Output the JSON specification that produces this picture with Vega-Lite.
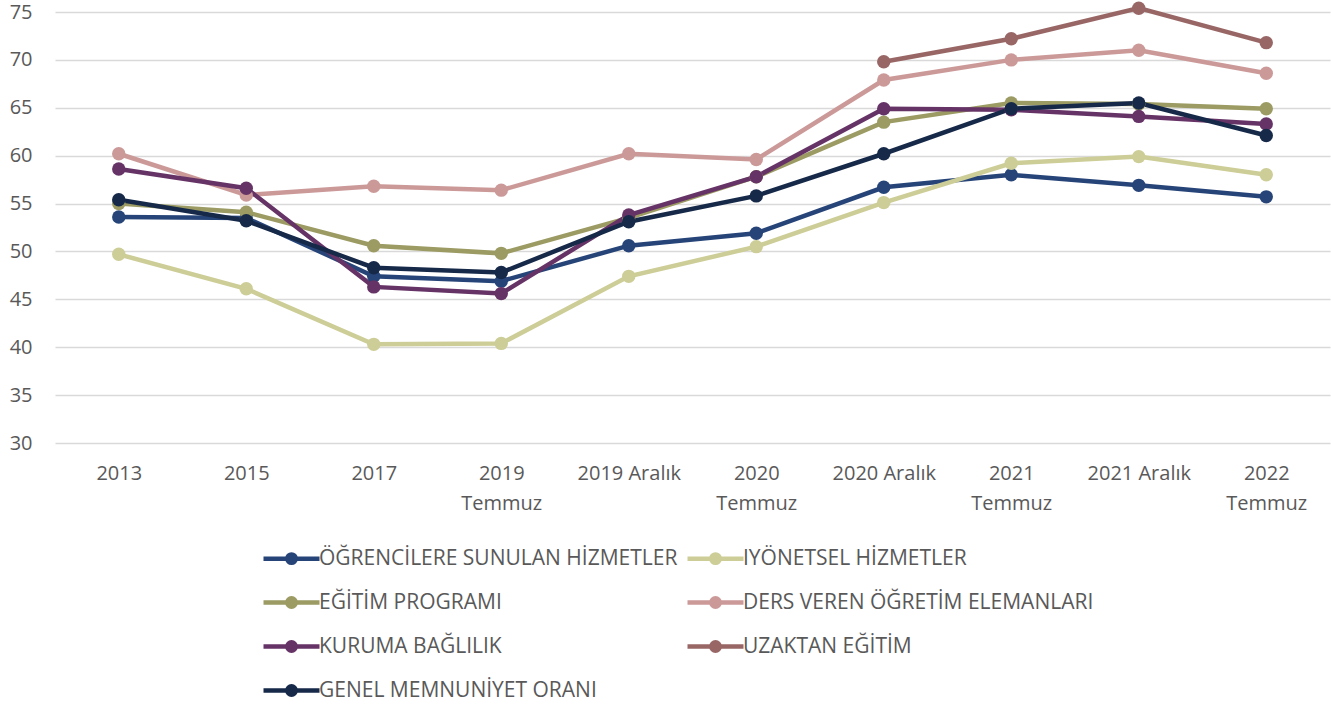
{
  "$schema": "https://vega.github.io/schema/vega-lite/v6.json",
  "width": 1275,
  "height": 431,
  "autosize": {"type": "none"},
  "padding": {"left": 55, "top": 12, "right": 1, "bottom": 265},
  "background": "#ffffff",
  "config": {
    "view": {"stroke": null},
    "font": "Open Sans"
  },
  "data": {
    "values": [
      {"s": "ÖĞRENCİLERE SUNULAN HİZMETLER", "d": "2013", "v": 53.6},
      {"s": "ÖĞRENCİLERE SUNULAN HİZMETLER", "d": "2015", "v": 53.5},
      {"s": "ÖĞRENCİLERE SUNULAN HİZMETLER", "d": "2017", "v": 47.4},
      {"s": "ÖĞRENCİLERE SUNULAN HİZMETLER", "d": "2019 Temmuz", "v": 46.9},
      {"s": "ÖĞRENCİLERE SUNULAN HİZMETLER", "d": "2019 Aralık", "v": 50.6},
      {"s": "ÖĞRENCİLERE SUNULAN HİZMETLER", "d": "2020 Temmuz", "v": 51.9},
      {"s": "ÖĞRENCİLERE SUNULAN HİZMETLER", "d": "2020 Aralık", "v": 56.7},
      {"s": "ÖĞRENCİLERE SUNULAN HİZMETLER", "d": "2021 Temmuz", "v": 58.0},
      {"s": "ÖĞRENCİLERE SUNULAN HİZMETLER", "d": "2021 Aralık", "v": 56.9},
      {"s": "ÖĞRENCİLERE SUNULAN HİZMETLER", "d": "2022 Temmuz", "v": 55.7},
      {"s": "IYÖNETSEL HİZMETLER", "d": "2013", "v": 49.7},
      {"s": "IYÖNETSEL HİZMETLER", "d": "2015", "v": 46.1},
      {"s": "IYÖNETSEL HİZMETLER", "d": "2017", "v": 40.3},
      {"s": "IYÖNETSEL HİZMETLER", "d": "2019 Temmuz", "v": 40.4},
      {"s": "IYÖNETSEL HİZMETLER", "d": "2019 Aralık", "v": 47.4},
      {"s": "IYÖNETSEL HİZMETLER", "d": "2020 Temmuz", "v": 50.5},
      {"s": "IYÖNETSEL HİZMETLER", "d": "2020 Aralık", "v": 55.1},
      {"s": "IYÖNETSEL HİZMETLER", "d": "2021 Temmuz", "v": 59.2},
      {"s": "IYÖNETSEL HİZMETLER", "d": "2021 Aralık", "v": 59.9},
      {"s": "IYÖNETSEL HİZMETLER", "d": "2022 Temmuz", "v": 58.0},
      {"s": "EĞİTİM PROGRAMI", "d": "2013", "v": 55.0},
      {"s": "EĞİTİM PROGRAMI", "d": "2015", "v": 54.1},
      {"s": "EĞİTİM PROGRAMI", "d": "2017", "v": 50.6},
      {"s": "EĞİTİM PROGRAMI", "d": "2019 Temmuz", "v": 49.8},
      {"s": "EĞİTİM PROGRAMI", "d": "2019 Aralık", "v": 53.5},
      {"s": "EĞİTİM PROGRAMI", "d": "2020 Temmuz", "v": 57.8},
      {"s": "EĞİTİM PROGRAMI", "d": "2020 Aralık", "v": 63.5},
      {"s": "EĞİTİM PROGRAMI", "d": "2021 Temmuz", "v": 65.5},
      {"s": "EĞİTİM PROGRAMI", "d": "2021 Aralık", "v": 65.4},
      {"s": "EĞİTİM PROGRAMI", "d": "2022 Temmuz", "v": 64.9},
      {"s": "DERS VEREN ÖĞRETİM ELEMANLARI", "d": "2013", "v": 60.2},
      {"s": "DERS VEREN ÖĞRETİM ELEMANLARI", "d": "2015", "v": 55.9},
      {"s": "DERS VEREN ÖĞRETİM ELEMANLARI", "d": "2017", "v": 56.8},
      {"s": "DERS VEREN ÖĞRETİM ELEMANLARI", "d": "2019 Temmuz", "v": 56.4},
      {"s": "DERS VEREN ÖĞRETİM ELEMANLARI", "d": "2019 Aralık", "v": 60.2},
      {"s": "DERS VEREN ÖĞRETİM ELEMANLARI", "d": "2020 Temmuz", "v": 59.6},
      {"s": "DERS VEREN ÖĞRETİM ELEMANLARI", "d": "2020 Aralık", "v": 67.9},
      {"s": "DERS VEREN ÖĞRETİM ELEMANLARI", "d": "2021 Temmuz", "v": 70.0},
      {"s": "DERS VEREN ÖĞRETİM ELEMANLARI", "d": "2021 Aralık", "v": 71.0},
      {"s": "DERS VEREN ÖĞRETİM ELEMANLARI", "d": "2022 Temmuz", "v": 68.6},
      {"s": "KURUMA BAĞLILIK", "d": "2013", "v": 58.6},
      {"s": "KURUMA BAĞLILIK", "d": "2015", "v": 56.6},
      {"s": "KURUMA BAĞLILIK", "d": "2017", "v": 46.3},
      {"s": "KURUMA BAĞLILIK", "d": "2019 Temmuz", "v": 45.6},
      {"s": "KURUMA BAĞLILIK", "d": "2019 Aralık", "v": 53.8},
      {"s": "KURUMA BAĞLILIK", "d": "2020 Temmuz", "v": 57.8},
      {"s": "KURUMA BAĞLILIK", "d": "2020 Aralık", "v": 64.9},
      {"s": "KURUMA BAĞLILIK", "d": "2021 Temmuz", "v": 64.8},
      {"s": "KURUMA BAĞLILIK", "d": "2021 Aralık", "v": 64.1},
      {"s": "KURUMA BAĞLILIK", "d": "2022 Temmuz", "v": 63.3},
      {"s": "UZAKTAN EĞİTİM", "d": "2020 Aralık", "v": 69.8},
      {"s": "UZAKTAN EĞİTİM", "d": "2021 Temmuz", "v": 72.2},
      {"s": "UZAKTAN EĞİTİM", "d": "2021 Aralık", "v": 75.4},
      {"s": "UZAKTAN EĞİTİM", "d": "2022 Temmuz", "v": 71.8},
      {"s": "GENEL MEMNUNİYET ORANI", "d": "2013", "v": 55.4},
      {"s": "GENEL MEMNUNİYET ORANI", "d": "2015", "v": 53.2},
      {"s": "GENEL MEMNUNİYET ORANI", "d": "2017", "v": 48.3},
      {"s": "GENEL MEMNUNİYET ORANI", "d": "2019 Temmuz", "v": 47.8},
      {"s": "GENEL MEMNUNİYET ORANI", "d": "2019 Aralık", "v": 53.1},
      {"s": "GENEL MEMNUNİYET ORANI", "d": "2020 Temmuz", "v": 55.8},
      {"s": "GENEL MEMNUNİYET ORANI", "d": "2020 Aralık", "v": 60.2},
      {"s": "GENEL MEMNUNİYET ORANI", "d": "2021 Temmuz", "v": 64.9},
      {"s": "GENEL MEMNUNİYET ORANI", "d": "2021 Aralık", "v": 65.5},
      {"s": "GENEL MEMNUNİYET ORANI", "d": "2022 Temmuz", "v": 62.1}
    ]
  },
  "encoding": {
    "x": {
      "field": "d",
      "type": "ordinal",
      "sort": ["2013", "2015", "2017", "2019 Temmuz", "2019 Aralık", "2020 Temmuz", "2020 Aralık", "2021 Temmuz", "2021 Aralık", "2022 Temmuz"],
      "scale": {"type": "point", "padding": 0.5},
      "axis": {
        "title": null,
        "domain": false,
        "ticks": false,
        "grid": false,
        "labelAngle": 0,
        "labelPadding": 20,
        "labelFont": "Open Sans",
        "labelFontSize": 20,
        "labelColor": "#595959",
        "labelLineHeight": 30,
        "labelExpr": "indexof(datum.value, 'Temmuz') >= 0 ? split(datum.value, ' ') : datum.value"
      }
    },
    "y": {
      "field": "v",
      "type": "quantitative",
      "scale": {"domain": [30, 75], "nice": false, "zero": false},
      "axis": {
        "title": null,
        "values": [30, 35, 40, 45, 50, 55, 60, 65, 70, 75],
        "domain": false,
        "ticks": false,
        "labelPadding": 23,
        "labelFont": "Open Sans",
        "labelFontSize": 20,
        "labelColor": "#595959",
        "gridColor": "#d9d9d9",
        "gridWidth": 1.5
      }
    },
    "color": {
      "field": "s",
      "type": "nominal",
      "scale": {
        "domain": ["ÖĞRENCİLERE SUNULAN HİZMETLER", "IYÖNETSEL HİZMETLER", "EĞİTİM PROGRAMI", "DERS VEREN ÖĞRETİM ELEMANLARI", "KURUMA BAĞLILIK", "UZAKTAN EĞİTİM", "GENEL MEMNUNİYET ORANI"],
        "range": ["#264478", "#cdcd97", "#9b9b63", "#cc9999", "#663366", "#996666", "#162949"]
      },
      "legend": {
        "title": null,
        "orient": "none",
        "direction": "horizontal",
        "legendX": 226,
        "legendY": 536,
        "columns": 2,
        "padding": 0,
        "columnPadding": 0,
        "rowPadding": 17,
        "symbolType": "M-4,0H4M-0.6,0A0.6,0.6,0,1,0,0.6,0A0.6,0.6,0,1,0,-0.6,0Z",
        "symbolSize": 196,
        "symbolStrokeWidth": 4.5,
        "labelFont": "Open Sans",
        "labelFontSize": 21,
        "labelColor": "#595959",
        "labelOffset": 17,
        "labelLimit": 500,
        "encode": {
          "symbols": {
            "update": {
              "fill": {"scale": "color", "field": "value"},
              "stroke": {"scale": "color", "field": "value"},
              "opacity": {"value": 1}
            }
          }
        }
      }
    }
  },
  "layer": [
    {"mark": {"type": "line", "strokeWidth": 4.5}},
    {"mark": {"type": "point", "filled": true, "size": 180, "opacity": 1}}
  ]
}
